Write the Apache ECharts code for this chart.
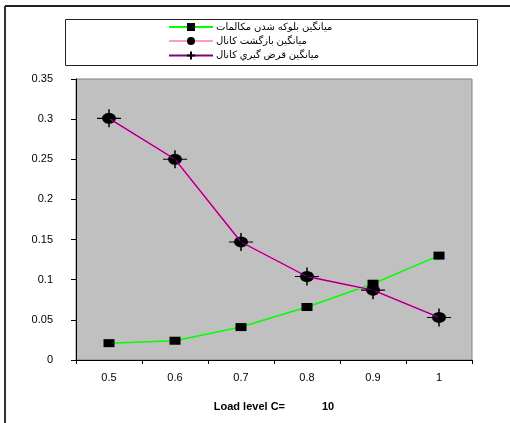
<!DOCTYPE html>
<html>
<head>
<meta charset="utf-8">
<script src="https://cdn.jsdelivr.net/npm/echarts@6/dist/echarts.min.js"></script>
<style>
  html, body { margin: 0; padding: 0; background: #fff; }
  #chart { width: 510px; height: 423px; }
</style>
</head>
<body>
<div id="chart"></div>
<script>
// Load levels on the x axis
const loadLevels = ['0.5', '0.6', '0.7', '0.8', '0.9', '1'];

// Average call blocking
const blockingAvg = [0.021, 0.024, 0.041, 0.066, 0.095, 0.13];
// Average channel return
const returnAvg = [0.301, 0.25, 0.147, 0.104, 0.087, 0.053];
// Average channel borrowing
const borrowAvg = [0.301, 0.25, 0.147, 0.104, 0.087, 0.053];

const seriesNames = [
  'میانگین بلوکه شدن مکالمات',
  'میانگین بازگشت کانال',
  'میانگین قرض گیري کانال'
];

const FONT = 'Arial, "Liberation Sans", "DejaVu Sans", sans-serif';
const ELLIPSE = 'path://M0,10A10,10,0,1,1,20,10A10,10,0,1,1,0,10Z';
const PLUS = 'path://M0,10L20,10M10,0L10,20';

const chart = echarts.init(document.getElementById('chart'), null, { renderer: 'canvas' });

chart.setOption({
  animation: false,
  backgroundColor: '#ffffff',
  textStyle: { fontFamily: FONT },
  graphic: [
    // outer frame (top and left edges)
    { type: 'line', shape: { x1: 5, y1: 6, x2: 510, y2: 6 }, style: { stroke: '#222', lineWidth: 2 } },
    { type: 'line', shape: { x1: 5, y1: 6, x2: 5, y2: 423 }, style: { stroke: '#333', lineWidth: 2 } },
    // legend frame
    { type: 'rect', shape: { x: 65.5, y: 19.5, width: 412, height: 46 }, style: { fill: '#fff', stroke: '#222', lineWidth: 1 }, z: -1 }
  ],
  legend: {
    orient: 'vertical',
    left: 163,
    top: 16,
    itemWidth: 44,
    itemHeight: 10,
    itemGap: 2,
    align: 'left',
    textStyle: { fontSize: 10, lineHeight: 12, color: '#000', fontFamily: FONT, padding: [0, 0, 0, -2] },
    data: seriesNames
  },
  grid: {
    left: 76,
    right: 38,
    top: 79,
    bottom: 63,
    show: true,
    backgroundColor: '#C0C0C0',
    borderColor: '#808080',
    borderWidth: 1
  },
  xAxis: {
    type: 'category',
    data: loadLevels,
    boundaryGap: true,
    name: '{a|Load level C=}{b|10}',
    nameLocation: 'middle',
    nameGap: 41,
    nameTextStyle: {
      rich: {
        a: { fontSize: 11, fontWeight: 'bold', color: '#000', fontFamily: FONT },
        b: { fontSize: 11, fontWeight: 'bold', color: '#000', fontFamily: FONT, padding: [0, 0, 0, 37] }
      }
    },
    axisLine: { lineStyle: { color: '#000', width: 1 } },
    axisTick: { show: true, length: 4, inside: false, lineStyle: { color: '#000' } },
    axisLabel: { color: '#000', fontSize: 11, margin: 12, fontFamily: FONT },
    splitLine: { show: false }
  },
  yAxis: {
    type: 'value',
    min: 0,
    max: 0.35,
    interval: 0.05,
    axisLine: { show: true, lineStyle: { color: '#000', width: 1 } },
    axisTick: { show: true, length: 5, inside: false, lineStyle: { color: '#000' } },
    axisLabel: { color: '#000', fontSize: 11, margin: 23, fontFamily: FONT },
    splitLine: { show: false }
  },
  series: [
    {
      name: seriesNames[0],
      type: 'line',
      data: blockingAvg,
      symbol: 'rect',
      symbolSize: [11, 8],
      lineStyle: { color: '#00FF00', width: 1.5 },
      itemStyle: { color: '#000', borderColor: '#000', borderWidth: 0 },
      z: 2
    },
    {
      name: seriesNames[1],
      type: 'line',
      data: returnAvg,
      symbol: ELLIPSE,
      symbolSize: [14, 11],
      lineStyle: { color: '#FF99CC', width: 3 },
      itemStyle: { color: '#000', borderColor: '#000', borderWidth: 0 },
      z: 3
    },
    {
      name: seriesNames[2],
      type: 'line',
      data: borrowAvg,
      symbol: PLUS,
      symbolSize: [24, 18],
      lineStyle: { color: '#800080', width: 1.3 },
      itemStyle: { color: 'none', borderColor: '#000', borderWidth: 1.3 },
      z: 4
    }
  ]
});
</script>
</body>
</html>
